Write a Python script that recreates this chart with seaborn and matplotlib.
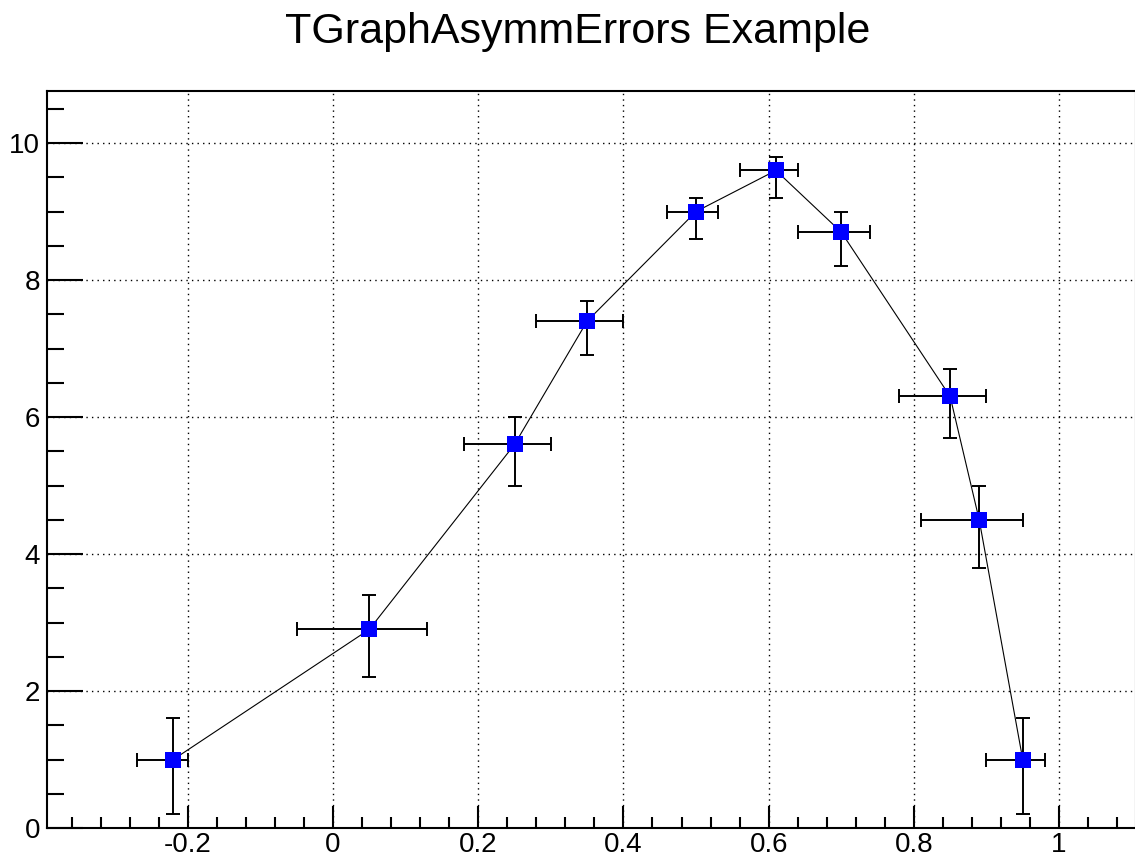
import numpy as np
import pandas as pd
import matplotlib
matplotlib.use("Agg")
import matplotlib.pyplot as plt
from matplotlib.ticker import MultipleLocator
import seaborn as sns

# graph points and asymmetric errors
x = [-0.22, 0.05, 0.25, 0.35, 0.5, 0.61, 0.7, 0.85, 0.89, 0.95]
y = [1, 2.9, 5.6, 7.4, 9, 9.6, 8.7, 6.3, 4.5, 1]
exl = [.05, .1, .07, .07, .04, .05, .06, .07, .08, .05]
exh = [.02, .08, .05, .05, .03, .03, .04, .05, .06, .03]
eyl = [.8, .7, .6, .5, .4, .4, .5, .6, .7, .8]
eyh = [.6, .5, .4, .3, .2, .2, .3, .4, .5, .6]

df = pd.DataFrame({"x": x, "y": y})

sns.set_style("ticks", {"text.color": "black", "xtick.color": "black",
                        "ytick.color": "black", "axes.edgecolor": "black"})
plt.rcParams['font.family'] = ['Liberation Sans', 'DejaVu Sans']

fig = plt.figure(figsize=(11.35, 8.64), dpi=100)
ax = fig.add_axes([47 / 1135, 36 / 864, 1089 / 1135, 737 / 864])

ax.errorbar(x, y, xerr=[exl, exh], yerr=[eyl, eyh], fmt='none',
            ecolor='black', elinewidth=1.4, capsize=5, capthick=1.4, zorder=2)
sns.lineplot(data=df, x="x", y="y", ax=ax, color='black', linewidth=0.8,
             sort=False, zorder=3)
sns.scatterplot(data=df, x="x", y="y", ax=ax, marker='s', s=120,
                color='#0000ff', edgecolor='#0000ff', linewidth=0, zorder=4)

ax.set_xlim(-0.394, 1.106)
ax.set_ylim(0, 10.76)
ax.xaxis.set_major_locator(MultipleLocator(0.2))
ax.xaxis.set_minor_locator(MultipleLocator(0.04))
ax.yaxis.set_major_locator(MultipleLocator(2))
ax.yaxis.set_minor_locator(MultipleLocator(0.5))
ax.xaxis.set_major_formatter(plt.FuncFormatter(lambda v, p: f"{v:g}" if abs(v) > 1e-9 else "0"))

ax.grid(True, which='major', linestyle=(0, (1, 3)), color='black', linewidth=1)
ax.set_axisbelow(True)

ax.tick_params(axis='both', which='both', direction='in', top=False, right=False,
               labelsize=20, width=1.5, colors='black')
ax.tick_params(axis='x', which='major', length=16, pad=3)
ax.tick_params(axis='x', which='minor', length=8)
ax.tick_params(axis='y', which='major', length=26, pad=5)
ax.tick_params(axis='y', which='minor', length=12)
for s in ax.spines.values():
    s.set_linewidth(1.5)
    s.set_color('black')

ax.set_xlabel("")
ax.set_ylabel("")
fig.text(578 / 1135, 1 - 32 / 864, "TGraphAsymmErrors Example", ha='center',
         va='center', fontsize=31, color='black')

fig.savefig("out.png", dpi=100)
